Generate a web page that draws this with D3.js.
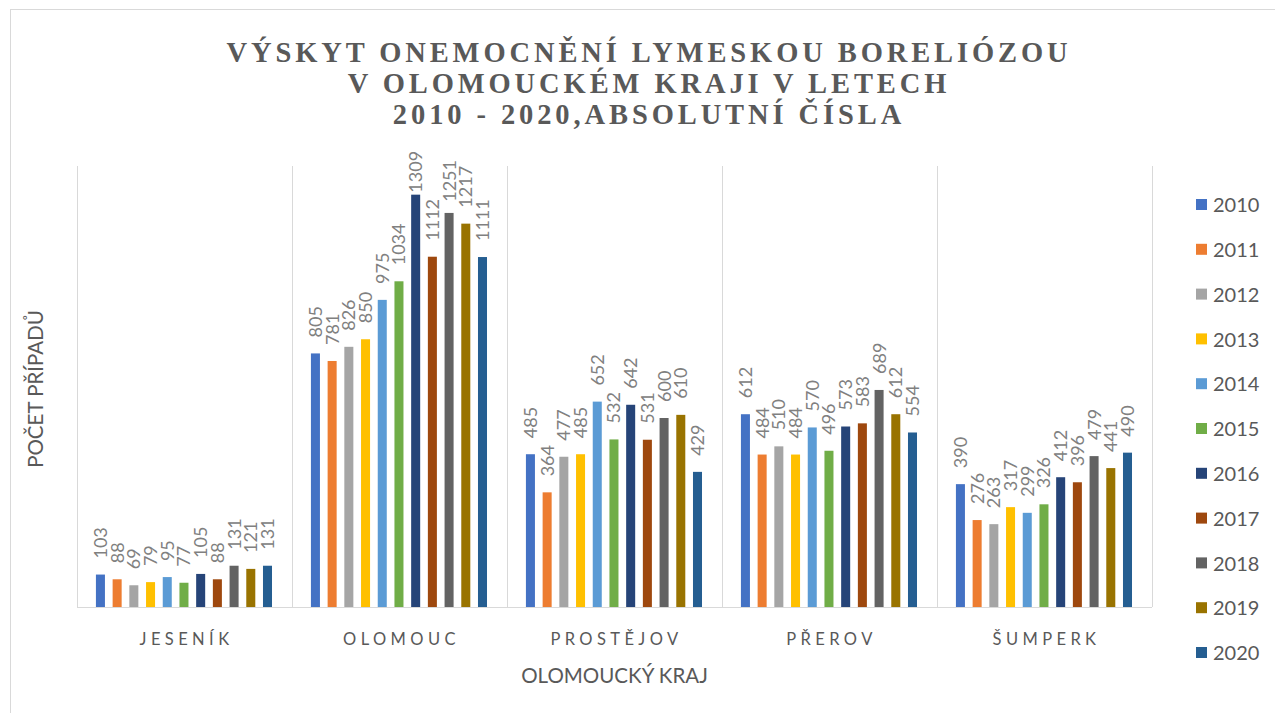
<!DOCTYPE html>
<html>
<head>
<meta charset="utf-8">
<script src="https://cdn.jsdelivr.net/npm/d3@7"></script>
<style>
  body { margin: 0; background: #fff; }
  svg { display: block; }
</style>
</head>
<body>
<svg id="chart" width="1275" height="713"></svg>
<script>
// data
const regions = ['JESENÍK', 'OLOMOUC', 'PROSTĚJOV', 'PŘEROV', 'ŠUMPERK']
const years = ['2010', '2011', '2012', '2013', '2014', '2015', '2016', '2017', '2018', '2019', '2020']
const jesenik = [103, 88, 69, 79, 95, 77, 105, 88, 131, 121, 131]
const olomouc = [805, 781, 826, 850, 975, 1034, 1309, 1112, 1251, 1217, 1111]
const prostejov = [485, 364, 477, 485, 652, 532, 642, 531, 600, 610, 429]
const prerov = [612, 484, 510, 484, 570, 496, 573, 583, 689, 612, 554]
const sumperk = [390, 276, 263, 317, 299, 326, 412, 396, 479, 441, 490]
const values = [jesenik, olomouc, prostejov, prerov, sumperk]
const colors = ['#4472C4', '#ED7D31', '#A5A5A5', '#FFC000', '#5B9BD5', '#70AD47',
  '#264478', '#9E480E', '#636363', '#997300', '#255E91']

const titleLines = ['VÝSKYT ONEMOCNĚNÍ LYMESKOU BORELIÓZOU', 'V OLOMOUCKÉM KRAJI V LETECH', '2010 - 2020,ABSOLUTNÍ ČÍSLA']

let svg = d3.select('#chart')
let margin = { top: 166, left: 77, right: 123, bottom: 106 }
let width = 1275 - margin.left - margin.right
let height = 713 - margin.top - margin.bottom

// outer chart border
svg.append('rect')
  .attr('x', 10.5).attr('y', 9.5)
  .attr('width', 1300).attr('height', 720)
  .attr('fill', 'none').attr('stroke', '#d9d9d9')

// title
svg.append('text')
  .attr('text-anchor', 'middle')
  .attr('fill', '#595959')
  .style('font-family', '"Liberation Serif", serif')
  .style('font-weight', 'bold')
  .style('font-size', '28.5px')
  .style('letter-spacing', '3.9px')
  .selectAll('tspan')
  .data(titleLines)
  .join('tspan')
  .attr('x', 649)
  .attr('y', (d, i) => 62 + i * 31)
  .text(d => d)

let g = svg.append('g').attr('transform', 'translate(' + margin.left + ',' + margin.top + ')')

let x0 = d3.scaleBand().domain(regions).range([0, width])
let x1 = d3.scaleBand().domain(years)
  .range([x0.bandwidth() * 0.088, x0.bandwidth() * 0.907])
  .paddingInner(0.46)
let y = d3.scaleLinear().domain([0, 1400]).range([height, 0])

// category separators
g.append('g')
  .selectAll('line')
  .data(d3.range(regions.length + 1))
  .join('line')
  .attr('x1', d => d * x0.step()).attr('x2', d => d * x0.step())
  .attr('y1', 0).attr('y2', height)
  .attr('stroke', '#d9d9d9')
  .attr('shape-rendering', 'crispEdges')

g.append('line')
  .attr('x1', 0).attr('x2', width)
  .attr('y1', height).attr('y2', height)
  .attr('stroke', '#d9d9d9')
  .attr('shape-rendering', 'crispEdges')

// bars + labels
let groups = g.selectAll('.grp')
  .data(regions)
  .join('g')
  .attr('class', 'grp')
  .attr('transform', d => 'translate(' + x0(d) + ',0)')

let cells = (d, i) => years.map((yr, j) => ({ year: yr, value: values[i][j], c: colors[j] }))

groups.selectAll('rect')
  .data(cells)
  .join('rect')
  .attr('x', d => x1(d.year))
  .attr('width', x1.bandwidth())
  .attr('y', d => y(d.value))
  .attr('height', d => height - y(d.value))
  .attr('fill', d => d.c)

groups.selectAll('text.lbl')
  .data(cells)
  .join('text')
  .attr('class', 'lbl')
  .attr('fill', '#808080')
  .style('font-family', 'Lato, sans-serif')
  .style('font-size', '18px')
  .attr('dy', '0.36em')
  .text(d => d.value)
  .each(function (d) {
    let len = this.getComputedTextLength()
    // push tall labels down toward the plot top, but never into the bar
    let base = Math.max(y(d.value) - 16, Math.min(len - 6, y(d.value) - 2))
    d3.select(this).attr('transform',
      'translate(' + (x1(d.year) + x1.bandwidth() / 2) + ',' + base + ') rotate(-90)')
  })

// category axis labels
g.append('g')
  .selectAll('text')
  .data(regions)
  .join('text')
  .attr('x', d => x0(d) + x0.bandwidth() / 2 + 2)
  .attr('y', height + 38)
  .attr('text-anchor', 'middle')
  .attr('fill', '#595959')
  .style('font-family', 'Lato, sans-serif')
  .style('font-size', '16.5px')
  .style('letter-spacing', '4.4px')
  .text(d => d)

// axis titles
svg.append('text')
  .attr('x', margin.left + width / 2)
  .attr('y', 683)
  .attr('text-anchor', 'middle')
  .attr('fill', '#595959')
  .style('font-family', 'Lato, sans-serif')
  .style('font-size', '20.5px')
  .text('OLOMOUCKÝ KRAJ')

svg.append('text')
  .attr('transform', 'translate(43,389) rotate(-90)')
  .attr('text-anchor', 'middle')
  .attr('fill', '#595959')
  .style('font-family', 'Lato, sans-serif')
  .style('font-size', '20.5px')
  .text('POČET PŘÍPADŮ')

// legend
let legend = svg.append('g')
  .selectAll('g')
  .data(years)
  .join('g')
  .attr('transform', (d, i) => 'translate(1196,' + (205 + i * 44.8) + ')')

legend.append('rect')
  .attr('x', 0).attr('y', -6)
  .attr('width', 11).attr('height', 11)
  .attr('fill', (d, i) => colors[i])

legend.append('text')
  .attr('x', 17)
  .attr('dy', '0.36em')
  .attr('fill', '#595959')
  .style('font-family', 'Lato, sans-serif')
  .style('font-size', '20px')
  .text(d => d)
</script>
</body>
</html>
